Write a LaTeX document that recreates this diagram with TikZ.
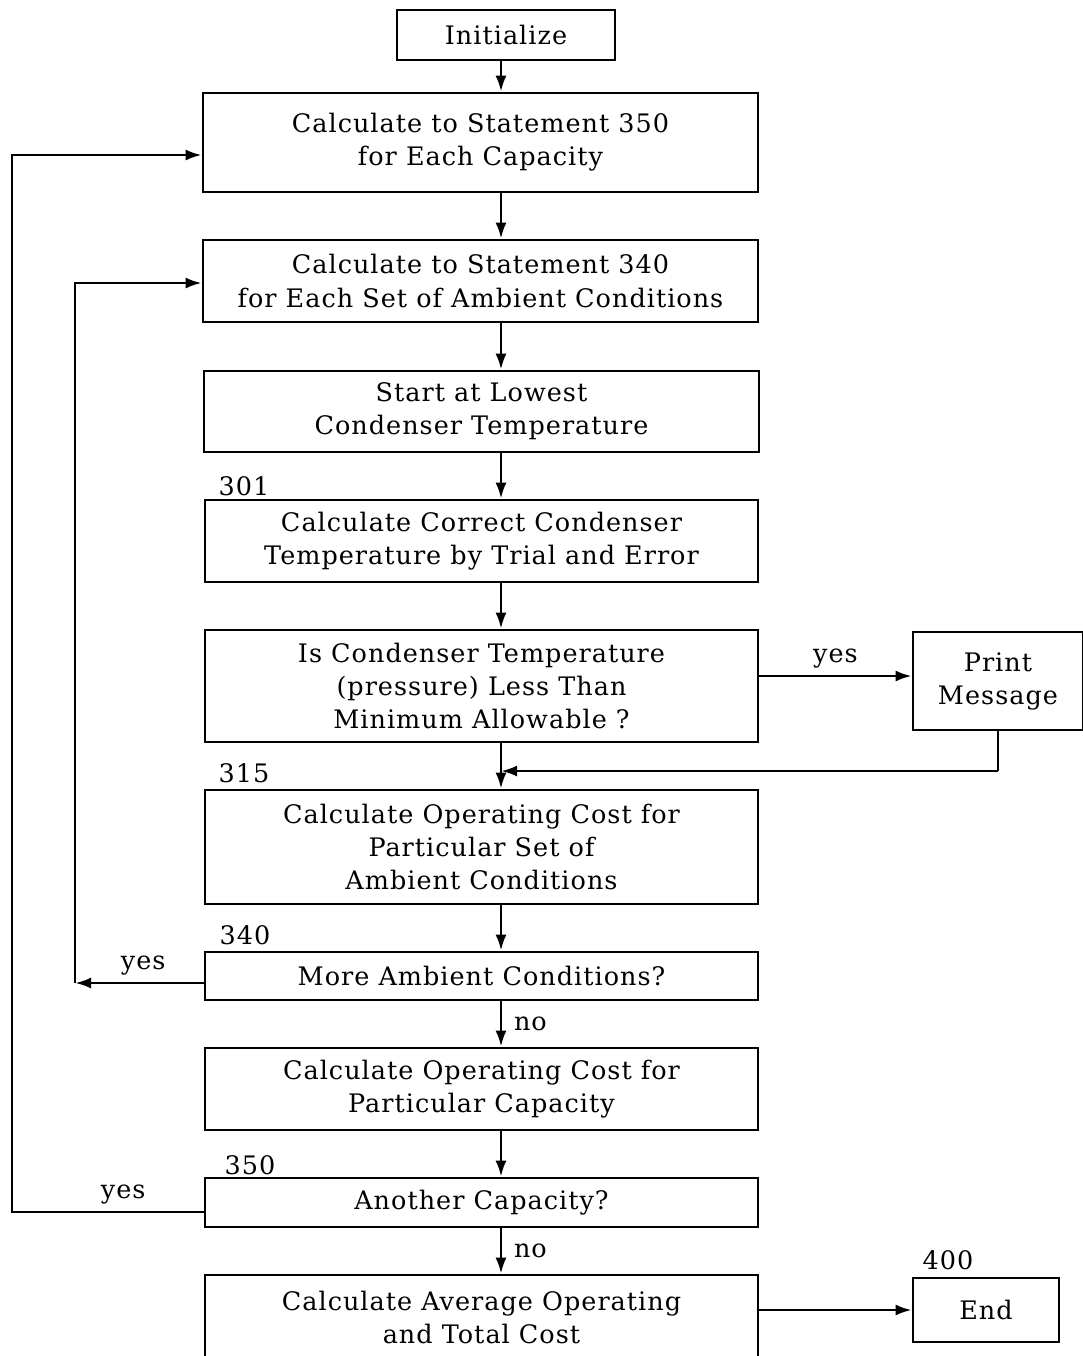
\documentclass[tikz,border=0pt]{standalone}
\usepackage{fontspec}
\setmainfont[LetterSpace=4]{DejaVu Serif}
\usepackage{tikz}
\usetikzlibrary{positioning,arrows.meta}

\begin{document}
\begin{tikzpicture}[
    >=Latex,
    line/.style={draw, -{Latex[length=3.2mm, width=2.2mm]}, line width=1.5pt},
    plain/.style={draw, line width=1.5pt},
    box/.style={
        draw,
        line width=1.5pt,
        align=center,
        inner sep=2pt,
        font=\fontsize{14.5}{18.8}\selectfont
    },
    numlabel/.style={font=\fontsize{14.5}{16}\selectfont, inner sep=1pt}
]
\useasboundingbox (0,0) rectangle (21.66,-27.12);
% Spine of the main flow
\coordinate (spine) at (10.02,0);
% Top node
\node[box, minimum width=4.36cm, minimum height=1.0cm] (init) at (10.12,-0.70) {Initialize};
% Main column
\node[box, minimum width=11.1cm, minimum height=1.98cm] (cap) at (9.61,-2.85) {Calculate to Statement 350\\for Each Capacity};
\node[box, minimum width=11.1cm, minimum height=1.64cm] (amb) at (9.61,-5.62) {Calculate to Statement 340\\for Each Set of Ambient Conditions};
\node[box, minimum width=11.1cm, minimum height=1.62cm] (low) at (9.63,-8.23) {Start at Lowest\\Condenser Temperature};
\node[box, minimum width=11.06cm, minimum height=1.64cm] (trial) at (9.63,-10.82) {Calculate Correct Condenser\\Temperature by Trial and Error};
\node[box, minimum width=11.06cm, minimum height=2.24cm] (less) at (9.63,-13.72) {Is Condenser Temperature\\(pressure) Less Than\\Minimum Allowable ?};
\node[box, minimum width=11.06cm, minimum height=2.28cm] (opamb) at (9.63,-16.94) {Calculate Operating Cost for\\Particular Set of\\Ambient Conditions};
\node[box, minimum width=11.06cm, minimum height=0.96cm] (more) at (9.63,-19.52) {More Ambient Conditions?};
\node[box, minimum width=11.06cm, minimum height=1.64cm] (opcap) at (9.63,-21.78) {Calculate Operating Cost for\\Particular Capacity};
\node[box, minimum width=11.06cm, minimum height=0.98cm] (another) at (9.63,-24.05) {Another Capacity?};
\node[box, minimum width=11.06cm, minimum height=1.7cm] (avg) at (9.63,-26.35) {Calculate Average Operating\\and Total Cost};
% Side nodes
\node[box, minimum width=3.4cm, minimum height=1.96cm] (print) at (19.96,-13.62) {Print\\Message};
\node[box, minimum width=2.92cm, minimum height=1.28cm] (end) at (19.72,-26.2) {End};
% Statement numbers
\node[numlabel] (n301) at (4.88,-9.72) {301};
\node[numlabel] (n315) at (4.88,-15.46) {315};
\node[numlabel] (n340) at (4.90,-18.70) {340};
\node[numlabel] (n350) at (5.00,-23.30) {350};
\node[numlabel] (n400) at (18.96,-25.20) {400};
% Helper coordinates
\coordinate (yesrow) at (0,-13.52);
\coordinate (mergerow) at (0,-15.42);
\coordinate (outer) at (0.24,-3.10);
\coordinate (inner) at (1.50,-5.66);
\coordinate (outerlow) at (0.24,-24.24);
\coordinate (innerlow) at (1.50,-19.66);
% Main flow
\draw[line] (init.south -| spine) -- (cap.north -| spine);
\draw[line] (cap.south -| spine) -- (amb.north -| spine);
\draw[line] (amb.south -| spine) -- (low.north -| spine);
\draw[line] (low.south -| spine) -- (trial.north -| spine);
\draw[line] (trial.south -| spine) -- (less.north -| spine);
\draw[line] (less.south -| spine) -- (opamb.north -| spine);
\draw[line] (opamb.south -| spine) -- (more.north -| spine);
\draw[line] (more.south -| spine) -- node[right, numlabel, xshift=2mm] {no} (opcap.north -| spine);
\draw[line] (opcap.south -| spine) -- (another.north -| spine);
\draw[line] (another.south -| spine) -- node[right, numlabel, xshift=2mm] {no} (avg.north -| spine);
% Print message branch
\draw[line] (less.east |- yesrow) -- node[above, numlabel, yshift=1mm] {yes} (print.west |- yesrow);
\draw[plain] (print.south) -- (print.south |- mergerow);
\draw[line] (print.south |- mergerow) -- (spine |- mergerow);
% Inner loop
\draw[line] (more.west |- innerlow) -- node[above, numlabel, pos=0.47, yshift=1mm] {yes} (innerlow);
\draw[line] (innerlow) -- (inner) -- (amb.west |- inner);
% Outer loop
\draw[line] (another.west |- outerlow) -- node[above, numlabel, pos=0.42, yshift=1mm] {yes} (outerlow) -- (outer) -- (cap.west |- outer);
% End
\draw[line] (avg.east |- end.west) -- (end.west);
\end{tikzpicture}
\end{document}
